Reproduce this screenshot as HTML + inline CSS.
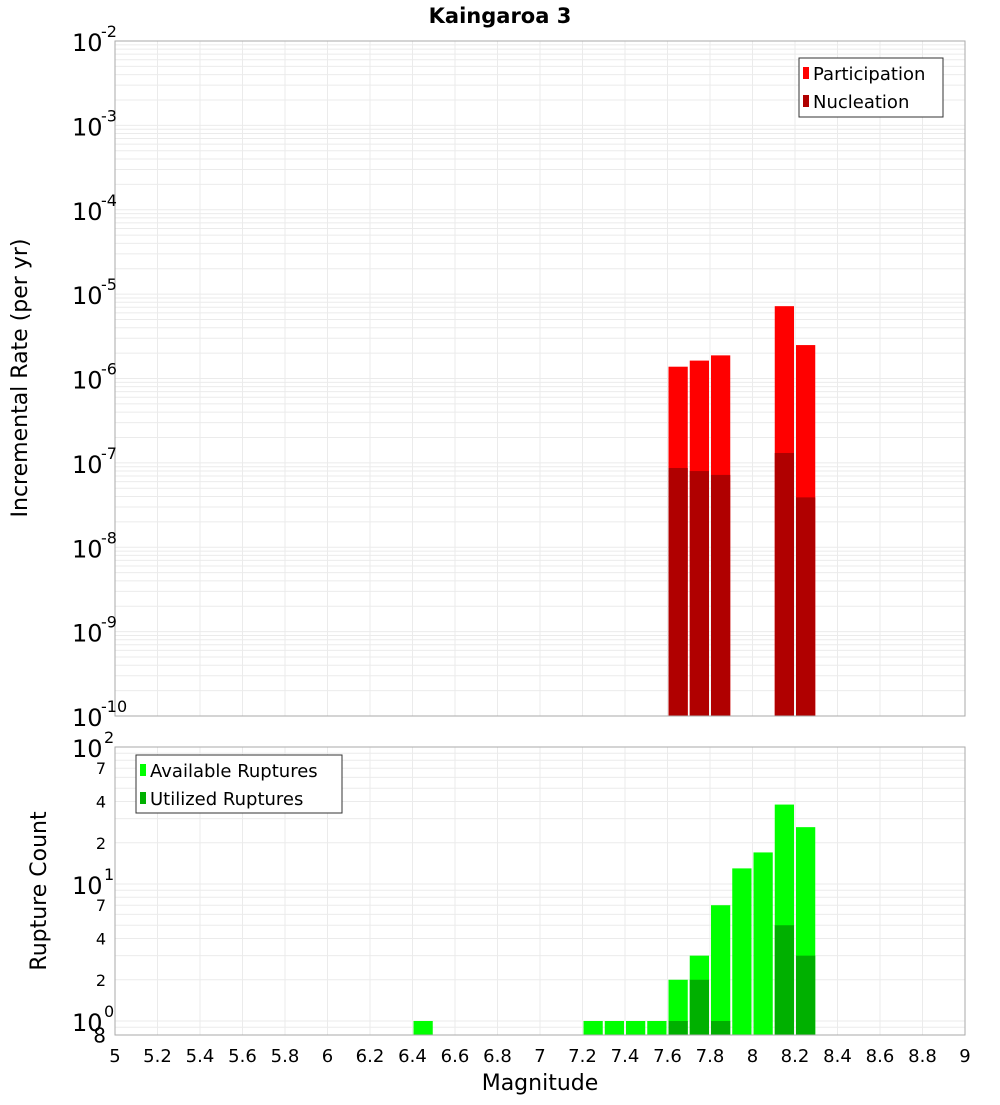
<!DOCTYPE html>
<html><head><meta charset="utf-8"><style>
body{margin:0;background:#fff;}
svg text{font-family:"DejaVu Sans","Liberation Sans",sans-serif;}
</style></head><body>
<svg id="c" width="1000" height="1100" xmlns="http://www.w3.org/2000/svg">
<text x="500" y="23" text-anchor="middle" font-size="21" font-weight="bold">Kaingaroa 3</text>
<g id="topg"></g>
<g id="botg"></g>
<text x="540" y="1090" text-anchor="middle" font-size="22">Magnitude</text>
<text transform="translate(27,378) rotate(-90)" text-anchor="middle" font-size="22">Incremental Rate (per yr)</text>
<text transform="translate(46,891) rotate(-90)" text-anchor="middle" font-size="22">Rupture Count</text>
<g>
<rect x="799" y="58" width="144" height="59" fill="#fff" stroke="#333"/>
<rect x="803" y="67" width="6" height="12" fill="#ff0000"/><text x="813" y="80" font-size="18">Participation</text>
<rect x="803" y="95" width="6" height="12" fill="#b00000"/><text x="813" y="108" font-size="18">Nucleation</text>
</g>
<g>
<rect x="136" y="755" width="206" height="58" fill="#fff" stroke="#333"/>
<rect x="140" y="764" width="6" height="12" fill="#00ff00"/><text x="150" y="777" font-size="18">Available Ruptures</text>
<rect x="140" y="792" width="6" height="12" fill="#00b000"/><text x="150" y="805" font-size="18">Utilized Ruptures</text>
</g>
</svg>
<script>
const mags=[7.65,7.75,7.85,8.15,8.25];
const participation=[1.38e-6,1.63e-6,1.88e-6,7.2e-6,2.49e-6];
const nucleation=[8.7e-8,8.0e-8,7.2e-8,1.31e-7,3.9e-8];
const cMags=[6.45,7.25,7.35,7.45,7.55,7.65,7.75,7.85,7.95,8.05,8.15,8.25];
const available=[1,1,1,1,1,2,3,7,13,17,38,26];
const utilized=[0,0,0,0,0,1,2,1,0,0,5,3];
const xTicks=[5,5.2,5.4,5.6,5.8,6,6.2,6.4,6.6,6.8,7,7.2,7.4,7.6,7.8,8,8.2,8.4,8.6,8.8,9];
{
const NS="http://www.w3.org/2000/svg";
const X0=115,X1=965;
const xs=m=>X0+(m-5)/4*(X1-X0);
const T0=41,T1=716;
const yt=v=>T0+(-2-Math.log10(v))*(T1-T0)/8;
const B0=747,B1=1035,BPD=137;
const yb=v=>B0+(2-Math.log10(v))*BPD;
function el(p,t,a,nm){const e=document.createElementNS(NS,t);for(const k in a)e.setAttribute(k,a[k]);


p.appendChild(e);return e;}
const topG=document.getElementById('topg'),botG=document.getElementById('botg'),svg=document.getElementById('c');
for(let d=-10;d<-2;d++)for(let k=1;k<10;k++){const y=yt(k*Math.pow(10,d));el(topG,'line',{x1:X0,x2:X1,y1:y,y2:y,stroke:'#ebebeb','stroke-width':1},'grid-line');}
for(let d=0;d<2;d++)for(let k=1;k<10;k++){const v=k*Math.pow(10,d);const y=yb(v);el(botG,'line',{x1:X0,x2:X1,y1:y,y2:y,stroke:'#ebebeb','stroke-width':1},'grid-line');}
el(botG,'line',{x1:X0,x2:X1,y1:yb(0.9),y2:yb(0.9),stroke:'#ebebeb'},'grid-line');
xTicks.forEach(m=>{const x=xs(m);el(topG,'line',{x1:x,x2:x,y1:T0,y2:T1,stroke:'#ebebeb'},'grid-line');el(botG,'line',{x1:x,x2:x,y1:B0,y2:B1,stroke:'#ebebeb'},'grid-line');
const t=el(svg,'text',{x:x,y:1062,'text-anchor':'middle','font-size':18},'x-tick-label');t.textContent=String(m);});
const bw=(X1-X0)/40;
mags.forEach((m,i)=>{const x=xs(m)-bw/2+1;
el(topG,'rect',{x:x,y:yt(participation[i]),width:bw-2,height:T1-yt(participation[i]),fill:'#ff0000'},'participation-bar');
el(topG,'rect',{x:x,y:yt(nucleation[i]),width:bw-2,height:T1-yt(nucleation[i]),fill:'#b00000'},'nucleation-bar');});
cMags.forEach((m,i)=>{const x=xs(m)-bw/2+1;
el(botG,'rect',{x:x,y:yb(available[i]),width:bw-2,height:B1-yb(available[i]),fill:'#00ff00'},'available-bar');
if(utilized[i]>0)el(botG,'rect',{x:x,y:yb(utilized[i]),width:bw-2,height:B1-yb(utilized[i]),fill:'#00b000'},'utilized-bar');});
el(topG,'rect',{x:X0,y:T0,width:X1-X0,height:T1-T0,fill:'none',stroke:'#aaa'},'top-frame');
el(botG,'rect',{x:X0,y:B0,width:X1-X0,height:B1-B0,fill:'none',stroke:'#aaa'},'bottom-frame');
for(let d=-2;d>=-10;d--){const y=yt(Math.pow(10,d));
const t=el(svg,'text',{x:72,y:y+10,'font-size':24},'top-y-tick-label');t.textContent='10';
const e=el(svg,'text',{x:101,y:y-4,'font-size':16},'top-y-tick-exponent');e.textContent=String(d);}
[[100,'2'],[10,'1'],[1,'0']].forEach(([v,p])=>{const y=yb(v);
const t=el(svg,'text',{x:72,y:y+10,'font-size':24},'bottom-y-tick-label');t.textContent='10';
const e=el(svg,'text',{x:104,y:y-4,'font-size':16},'bottom-y-tick-exponent');e.textContent=p;});
[70,40,20,7,4,2,0.8].forEach(v=>{const y=yb(v);const t=el(svg,'text',{x:106,y:y+6,'font-size':16,'text-anchor':'end'},'bottom-y-minor-label');t.textContent=String(v<1?8:(v>=10?v/10:v));if(v<1){t.setAttribute('font-size','20');t.setAttribute('y',y+8);}});
}
</script>
</body></html>
